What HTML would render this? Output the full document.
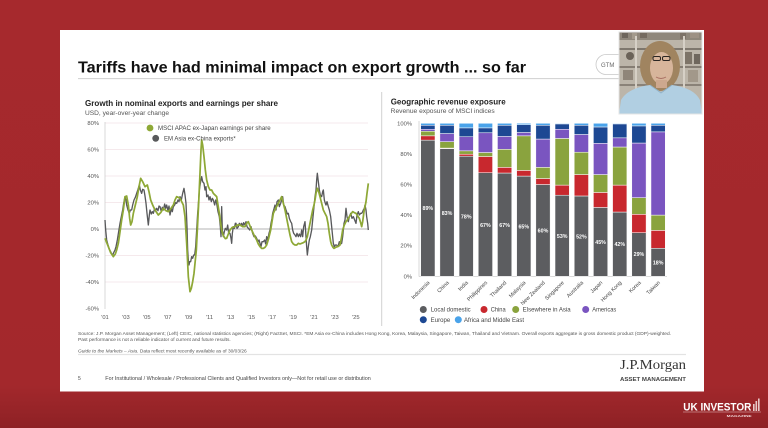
<!DOCTYPE html>
<html><head><meta charset="utf-8"><style>
html,body{margin:0;padding:0;background:#a5292c;}
svg{display:block;font-family:"Liberation Sans",Arial,sans-serif;}
</style></head><body>
<svg width="768" height="428" viewBox="0 0 768 428" xmlns="http://www.w3.org/2000/svg">
<defs>
<linearGradient id="bg" x1="0" y1="0" x2="0" y2="1">
<stop offset="0" stop-color="#a6292d"/><stop offset="0.9" stop-color="#a3282c"/><stop offset="1" stop-color="#8e2125"/>
</linearGradient>
<clipPath id="vid"><rect x="619" y="32" width="83" height="82"/></clipPath>
</defs>
<rect width="768" height="428" fill="url(#bg)"/>
<!-- slide -->
<rect x="60" y="30" width="644" height="361.5" fill="#fff"/>
<text x="78" y="72.7" font-size="16" font-weight="bold" fill="#111" textLength="448" lengthAdjust="spacingAndGlyphs">Tariffs have had minimal impact on export growth ... so far</text>
<line x1="78" y1="78.6" x2="620" y2="78.6" stroke="#cfcfcf" stroke-width="1"/>
<!-- GTM pill -->
<rect x="596" y="54.5" width="40" height="20" rx="10" fill="#fff" stroke="#c8c8c8" stroke-width="0.8"/>
<text x="601" y="66.8" font-size="6" fill="#666">GTM</text>
<!-- separator -->
<line x1="381.7" y1="92" x2="381.7" y2="326" stroke="#d0d0d0" stroke-width="1"/>

<!-- LEFT CHART -->
<text x="85" y="106" font-size="8" font-weight="bold" fill="#222" textLength="193" lengthAdjust="spacingAndGlyphs">Growth in nominal exports and earnings per share</text>
<text x="85" y="115" font-size="6.3" fill="#555" textLength="84" lengthAdjust="spacingAndGlyphs">USD, year-over-year change</text>
<g stroke="#f2e2e6" stroke-width="0.8">
<line x1="105" y1="123" x2="368" y2="123"/><line x1="105" y1="149.5" x2="368" y2="149.5"/>
<line x1="105" y1="176" x2="368" y2="176"/><line x1="105" y1="202.5" x2="368" y2="202.5"/>
<line x1="105" y1="255.5" x2="368" y2="255.5"/><line x1="105" y1="282" x2="368" y2="282"/>
</g>
<line x1="105" y1="229" x2="368" y2="229" stroke="#9a9a9a" stroke-width="0.8"/>
<line x1="105" y1="122" x2="105" y2="309" stroke="#cfcfcf" stroke-width="0.8"/>
<g font-size="5.8" fill="#555" text-anchor="end">
<text x="99" y="125">80%</text><text x="99" y="151.5">60%</text><text x="99" y="178">40%</text>
<text x="99" y="204.5">20%</text><text x="99" y="231">0%</text><text x="99" y="257.5">-20%</text>
<text x="99" y="284">-40%</text><text x="99" y="310.5">-60%</text>
</g>
<g font-size="5.8" fill="#555" text-anchor="middle">
<text x="105" y="318.8">'01</text><text x="125.9" y="318.8">'03</text><text x="146.8" y="318.8">'05</text>
<text x="167.7" y="318.8">'07</text><text x="188.6" y="318.8">'09</text><text x="209.5" y="318.8">'11</text>
<text x="230.4" y="318.8">'13</text><text x="251.3" y="318.8">'15</text><text x="272.2" y="318.8">'17</text>
<text x="293.1" y="318.8">'19</text><text x="314" y="318.8">'21</text><text x="334.9" y="318.8">'23</text>
<text x="355.8" y="318.8">'25</text>
</g>
<g transform="translate(60,90) scale(0.333333)" fill="none" stroke-linejoin="round">
<polyline stroke="#58595b" stroke-width="4" points="135,390 137,420 140,450 144,465 148,478 152,485 155,492 158,495 161,488 165,480 168,470 172,450 176,425 180,400 184,380 188,360 191,340 195,320 198,330 200,345 204,360 208,370 211,360 215,360 218,345 222,330 226,322 230,310 234,298 238,285 241,300 245,310 248,298 252,300 255,318 258,340 261,370 265,405 268,375 270,360 274,372 277,365 280,370 284,355 287,362 290,355 294,362 297,348 300,350 304,365 307,352 310,360 314,342 317,355 320,345 324,362 327,348 330,375 334,355 337,365 340,350 344,345 347,338 350,340 354,330 357,335 360,320 364,330 368,310 372,295 375,315 378,340 381,410 383,480 385,510 387,525 389,515 392,515 395,500 398,505 401,495 404,495 407,470 410,420 413,370 416,330 418,300 421,280 425,260 428,275 432,280 435,300 438,290 440,320 444,315 447,330 450,320 454,335 457,325 460,330 464,345 467,330 470,340 474,365 478,380 481,410 483,440 485,350 487,420 490,440 493,425 496,415 500,420 503,405 506,430 510,430 513,445 515,460 517,430 520,410 523,415 526,400 528,400 531,415 535,410 538,400 542,405 545,400 548,410 551,398 555,405 558,395 561,410 565,415 569,420 573,410 578,430 582,440 586,438 590,445 594,455 597,450 600,460 603,470 606,455 610,455 614,450 617,462 620,440 623,450 627,430 630,420 633,400 636,385 638,370 641,360 645,345 648,360 651,335 655,330 658,350 662,340 665,330 668,320 671,345 675,350 678,360 682,372 685,370 688,385 692,395 695,400 698,420 701,430 705,435 708,440 711,430 715,440 718,432 722,440 725,420 728,440 731,410 735,395 738,440 740,470 742,495 745,470 748,450 751,440 755,420 758,390 760,370 762,350 765,320 768,300 770,270 772,250 775,275 778,300 781,315 785,320 788,305 790,300 793,330 796,340 798,345 801,335 805,350 808,360 812,380 815,410 818,440 820,460 823,470 826,465 830,465 834,470 838,455 842,462 845,460 848,440 850,420 852,400 855,390 858,355 861,380 865,395 868,380 872,370 876,385 880,380 884,390 888,400 891,375 895,365 898,375 902,370 905,370 908,365 910,360 913,355 915,345 918,360 920,380 923,400 925,420"/>
<polyline stroke="#8ea836" stroke-width="5.2" points="135,445 145,470 152,488 160,500 166,492 170,480 175,460 178,440 185,390 190,360 195,320 200,318 205,345 209,385 212,405 216,395 220,370 226,345 232,320 237,290 242,265 248,275 255,290 262,285 267,305 272,330 278,345 285,360 295,375 302,368 310,355 318,362 325,365 333,355 340,345 345,330 350,320 355,322 360,325 365,335 370,345 375,380 380,460 385,560 390,605 394,595 398,575 402,550 405,520 409,480 412,420 416,340 420,250 423,180 425,150 428,165 432,200 436,240 440,270 445,290 450,300 455,300 460,310 465,315 470,320 474,345 478,370 482,400 485,420 489,435 492,440 496,446 500,445 505,432 510,420 517,412 525,410 532,405 540,405 548,410 555,410 560,400 565,395 570,408 575,420 582,435 590,450 595,462 600,470 605,475 610,475 615,472 620,465 626,445 632,420 636,395 640,370 647,355 655,340 660,330 665,320 670,340 675,360 680,385 685,410 690,435 695,455 700,462 705,465 710,465 715,460 720,462 725,460 730,458 735,455 739,448 742,440 746,420 750,400 754,380 758,360 762,345 765,330 768,310 772,295 776,305 780,320 785,340 790,360 795,370 800,380 804,400 808,430 812,455 815,465 819,472 822,475 827,472 832,470 836,468 840,465 844,445 848,420 853,405 858,395 863,388 868,380 873,372 878,365 883,368 888,370 893,378 898,385 902,398 905,410 908,395 912,365 915,350 918,335 921,310 925,280"/>
</g>
<!-- left legend -->
<circle cx="150" cy="128" r="3.4" fill="#8ea836"/>
<text x="158" y="130.2" font-size="6" fill="#444" textLength="112.7" lengthAdjust="spacingAndGlyphs">MSCI APAC ex-Japan earnings per share</text>
<circle cx="155.7" cy="138.3" r="3.4" fill="#58595b"/>
<text x="164" y="140.5" font-size="6" fill="#444" textLength="71.7" lengthAdjust="spacingAndGlyphs">EM Asia ex-China exports*</text>

<!-- RIGHT CHART -->
<text x="390.7" y="104.5" font-size="8" font-weight="bold" fill="#222" textLength="115" lengthAdjust="spacingAndGlyphs">Geographic revenue exposure</text>
<text x="390.7" y="113" font-size="6.3" fill="#555" textLength="104" lengthAdjust="spacingAndGlyphs">Revenue exposure of MSCI indices</text>
<g font-size="5.8" fill="#555" text-anchor="end">
<text x="412" y="125.3">100%</text><text x="412" y="155.9">80%</text><text x="412" y="186.5">60%</text>
<text x="412" y="217.1">40%</text><text x="412" y="247.7">20%</text><text x="412" y="278.3">0%</text>
</g>
<line x1="419" y1="121" x2="419" y2="276.5" stroke="#cfcfcf" stroke-width="0.8"/>
<line x1="419" y1="276.5" x2="667" y2="276.5" stroke="#cfcfcf" stroke-width="0.8"/>
<g transform="translate(0,276.3) scale(1,-1.53)" stroke="#fff" stroke-width="0.5">
<g transform="translate(420.7,0)">
<rect width="14.3" y="0" height="89" fill="#5c5d60" vector-effect="non-scaling-stroke"/>
<rect width="14.3" y="89" height="2.8" fill="#c8282e" vector-effect="non-scaling-stroke"/>
<rect width="14.3" y="91.8" height="3" fill="#8aa33e" vector-effect="non-scaling-stroke"/>
<rect width="14.3" y="94.8" height="1.3" fill="#7a55c0" vector-effect="non-scaling-stroke"/>
<rect width="14.3" y="96.1" height="2.6" fill="#1d4893" vector-effect="non-scaling-stroke"/>
<rect width="14.3" y="98.7" height="1.3" fill="#4aa3ea" vector-effect="non-scaling-stroke"/>
</g>
<g transform="translate(439.89,0)">
<rect width="14.3" y="0" height="83.4" fill="#5c5d60" vector-effect="non-scaling-stroke"/>
<rect width="14.3" y="83.4" height="0.4" fill="#c8282e" vector-effect="non-scaling-stroke"/>
<rect width="14.3" y="83.8" height="4.2" fill="#8aa33e" vector-effect="non-scaling-stroke"/>
<rect width="14.3" y="88" height="5.3" fill="#7a55c0" vector-effect="non-scaling-stroke"/>
<rect width="14.3" y="93.3" height="5.4" fill="#1d4893" vector-effect="non-scaling-stroke"/>
<rect width="14.3" y="98.7" height="1.3" fill="#4aa3ea" vector-effect="non-scaling-stroke"/>
</g>
<g transform="translate(459.08,0)">
<rect width="14.3" y="0" height="78.5" fill="#5c5d60" vector-effect="non-scaling-stroke"/>
<rect width="14.3" y="78.5" height="1.3" fill="#c8282e" vector-effect="non-scaling-stroke"/>
<rect width="14.3" y="79.8" height="2.2" fill="#8aa33e" vector-effect="non-scaling-stroke"/>
<rect width="14.3" y="82" height="9.2" fill="#7a55c0" vector-effect="non-scaling-stroke"/>
<rect width="14.3" y="91.2" height="5.8" fill="#1d4893" vector-effect="non-scaling-stroke"/>
<rect width="14.3" y="97" height="3" fill="#4aa3ea" vector-effect="non-scaling-stroke"/>
</g>
<g transform="translate(478.27,0)">
<rect width="14.3" y="0" height="67.7" fill="#5c5d60" vector-effect="non-scaling-stroke"/>
<rect width="14.3" y="67.7" height="10.6" fill="#c8282e" vector-effect="non-scaling-stroke"/>
<rect width="14.3" y="78.3" height="2.6" fill="#8aa33e" vector-effect="non-scaling-stroke"/>
<rect width="14.3" y="80.9" height="12.9" fill="#7a55c0" vector-effect="non-scaling-stroke"/>
<rect width="14.3" y="93.8" height="3.2" fill="#1d4893" vector-effect="non-scaling-stroke"/>
<rect width="14.3" y="97" height="3" fill="#4aa3ea" vector-effect="non-scaling-stroke"/>
</g>
<g transform="translate(497.46,0)">
<rect width="14.3" y="0" height="67.5" fill="#5c5d60" vector-effect="non-scaling-stroke"/>
<rect width="14.3" y="67.5" height="3.7" fill="#c8282e" vector-effect="non-scaling-stroke"/>
<rect width="14.3" y="71.2" height="11.8" fill="#8aa33e" vector-effect="non-scaling-stroke"/>
<rect width="14.3" y="83" height="8.4" fill="#7a55c0" vector-effect="non-scaling-stroke"/>
<rect width="14.3" y="91.4" height="7.3" fill="#1d4893" vector-effect="non-scaling-stroke"/>
<rect width="14.3" y="98.7" height="1.3" fill="#4aa3ea" vector-effect="non-scaling-stroke"/>
</g>
<g transform="translate(516.65,0)">
<rect width="14.3" y="0" height="65.5" fill="#5c5d60" vector-effect="non-scaling-stroke"/>
<rect width="14.3" y="65.5" height="3.7" fill="#c8282e" vector-effect="non-scaling-stroke"/>
<rect width="14.3" y="69.2" height="22.6" fill="#8aa33e" vector-effect="non-scaling-stroke"/>
<rect width="14.3" y="91.8" height="2.2" fill="#7a55c0" vector-effect="non-scaling-stroke"/>
<rect width="14.3" y="94" height="5.1" fill="#1d4893" vector-effect="non-scaling-stroke"/>
<rect width="14.3" y="99.1" height="0.9" fill="#4aa3ea" vector-effect="non-scaling-stroke"/>
</g>
<g transform="translate(535.84,0)">
<rect width="14.3" y="0" height="60" fill="#5c5d60" vector-effect="non-scaling-stroke"/>
<rect width="14.3" y="60" height="3.9" fill="#c8282e" vector-effect="non-scaling-stroke"/>
<rect width="14.3" y="63.9" height="7.3" fill="#8aa33e" vector-effect="non-scaling-stroke"/>
<rect width="14.3" y="71.2" height="18.5" fill="#7a55c0" vector-effect="non-scaling-stroke"/>
<rect width="14.3" y="89.7" height="9" fill="#1d4893" vector-effect="non-scaling-stroke"/>
<rect width="14.3" y="98.7" height="1.3" fill="#4aa3ea" vector-effect="non-scaling-stroke"/>
</g>
<g transform="translate(555.03,0)">
<rect width="14.3" y="0" height="53" fill="#5c5d60" vector-effect="non-scaling-stroke"/>
<rect width="14.3" y="53" height="6.6" fill="#c8282e" vector-effect="non-scaling-stroke"/>
<rect width="14.3" y="59.6" height="30.5" fill="#8aa33e" vector-effect="non-scaling-stroke"/>
<rect width="14.3" y="90.1" height="6" fill="#7a55c0" vector-effect="non-scaling-stroke"/>
<rect width="14.3" y="96.1" height="3.5" fill="#1d4893" vector-effect="non-scaling-stroke"/>
<rect width="14.3" y="99.6" height="0.4" fill="#4aa3ea" vector-effect="non-scaling-stroke"/>
</g>
<g transform="translate(574.22,0)">
<rect width="14.3" y="0" height="52.5" fill="#5c5d60" vector-effect="non-scaling-stroke"/>
<rect width="14.3" y="52.5" height="14" fill="#c8282e" vector-effect="non-scaling-stroke"/>
<rect width="14.3" y="66.5" height="14.6" fill="#8aa33e" vector-effect="non-scaling-stroke"/>
<rect width="14.3" y="81.1" height="11.6" fill="#7a55c0" vector-effect="non-scaling-stroke"/>
<rect width="14.3" y="92.7" height="6" fill="#1d4893" vector-effect="non-scaling-stroke"/>
<rect width="14.3" y="98.7" height="1.3" fill="#4aa3ea" vector-effect="non-scaling-stroke"/>
</g>
<g transform="translate(593.41,0)">
<rect width="14.3" y="0" height="45" fill="#5c5d60" vector-effect="non-scaling-stroke"/>
<rect width="14.3" y="45" height="9.8" fill="#c8282e" vector-effect="non-scaling-stroke"/>
<rect width="14.3" y="54.8" height="11.7" fill="#8aa33e" vector-effect="non-scaling-stroke"/>
<rect width="14.3" y="66.5" height="20.4" fill="#7a55c0" vector-effect="non-scaling-stroke"/>
<rect width="14.3" y="86.9" height="10.7" fill="#1d4893" vector-effect="non-scaling-stroke"/>
<rect width="14.3" y="97.6" height="2.4" fill="#4aa3ea" vector-effect="non-scaling-stroke"/>
</g>
<g transform="translate(612.6,0)">
<rect width="14.3" y="0" height="42" fill="#5c5d60" vector-effect="non-scaling-stroke"/>
<rect width="14.3" y="42" height="17.6" fill="#c8282e" vector-effect="non-scaling-stroke"/>
<rect width="14.3" y="59.6" height="24.9" fill="#8aa33e" vector-effect="non-scaling-stroke"/>
<rect width="14.3" y="84.5" height="6" fill="#7a55c0" vector-effect="non-scaling-stroke"/>
<rect width="14.3" y="90.5" height="9.1" fill="#1d4893" vector-effect="non-scaling-stroke"/>
<rect width="14.3" y="99.6" height="0.4" fill="#4aa3ea" vector-effect="non-scaling-stroke"/>
</g>
<g transform="translate(631.79,0)">
<rect width="14.3" y="0" height="28.5" fill="#5c5d60" vector-effect="non-scaling-stroke"/>
<rect width="14.3" y="28.5" height="12" fill="#c8282e" vector-effect="non-scaling-stroke"/>
<rect width="14.3" y="40.5" height="10.9" fill="#8aa33e" vector-effect="non-scaling-stroke"/>
<rect width="14.3" y="51.4" height="35.7" fill="#7a55c0" vector-effect="non-scaling-stroke"/>
<rect width="14.3" y="87.1" height="11.2" fill="#1d4893" vector-effect="non-scaling-stroke"/>
<rect width="14.3" y="98.3" height="1.7" fill="#4aa3ea" vector-effect="non-scaling-stroke"/>
</g>
<g transform="translate(650.98,0)">
<rect width="14.3" y="0" height="18.3" fill="#5c5d60" vector-effect="non-scaling-stroke"/>
<rect width="14.3" y="18.3" height="11.7" fill="#c8282e" vector-effect="non-scaling-stroke"/>
<rect width="14.3" y="30" height="10" fill="#8aa33e" vector-effect="non-scaling-stroke"/>
<rect width="14.3" y="40" height="54.4" fill="#7a55c0" vector-effect="non-scaling-stroke"/>
<rect width="14.3" y="94.4" height="4.3" fill="#1d4893" vector-effect="non-scaling-stroke"/>
<rect width="14.3" y="98.7" height="1.3" fill="#4aa3ea" vector-effect="non-scaling-stroke"/>
</g>
</g>
<g font-size="5.3" font-weight="bold" fill="#fff" text-anchor="middle">
<text x="427.85" y="210.2">89%</text><text x="447.04" y="214.8">83%</text><text x="466.23" y="218.6">78%</text>
<text x="485.42" y="227">67%</text><text x="504.61" y="227">67%</text><text x="523.8" y="228.6">65%</text>
<text x="542.99" y="232.4">60%</text><text x="562.18" y="237.8">53%</text><text x="581.37" y="238.5">52%</text>
<text x="600.56" y="243.9">45%</text><text x="619.75" y="246.2">42%</text><text x="638.94" y="256.1">29%</text>
<text x="658.13" y="264.5">18%</text>
</g>
<g font-size="5.4" fill="#444" text-anchor="end">
<text transform="translate(430,283) rotate(-45)">Indonesia</text>
<text transform="translate(449.2,283) rotate(-45)">China</text>
<text transform="translate(468.4,283) rotate(-45)">India</text>
<text transform="translate(487.6,283) rotate(-45)">Philippines</text>
<text transform="translate(506.8,283) rotate(-45)">Thailand</text>
<text transform="translate(526,283) rotate(-45)">Malaysia</text>
<text transform="translate(545.2,283) rotate(-45)">New Zealand</text>
<text transform="translate(564.4,283) rotate(-45)">Singapore</text>
<text transform="translate(583.6,283) rotate(-45)">Australia</text>
<text transform="translate(602.8,283) rotate(-45)">Japan</text>
<text transform="translate(622,283) rotate(-45)">Hong Kong</text>
<text transform="translate(641.2,283) rotate(-45)">Korea</text>
<text transform="translate(660.4,283) rotate(-45)">Taiwan</text>
</g>
<g font-size="6" fill="#444">
<circle cx="423.3" cy="309.5" r="3.5" fill="#5c5d60"/><text x="430.7" y="311.7" textLength="40" lengthAdjust="spacingAndGlyphs">Local domestic</text>
<circle cx="484" cy="309.5" r="3.5" fill="#c8282e"/><text x="490.7" y="311.7" textLength="15" lengthAdjust="spacingAndGlyphs">China</text>
<circle cx="515.7" cy="309.5" r="3.5" fill="#8aa33e"/><text x="522.7" y="311.7" textLength="48" lengthAdjust="spacingAndGlyphs">Elsewhere in Asia</text>
<circle cx="585.7" cy="309.5" r="3.5" fill="#7a55c0"/><text x="592.3" y="311.7" textLength="24" lengthAdjust="spacingAndGlyphs">Americas</text>
<circle cx="423.3" cy="319.7" r="3.5" fill="#1d4893"/><text x="430.7" y="321.9" textLength="19.5" lengthAdjust="spacingAndGlyphs">Europe</text>
<circle cx="458.3" cy="319.7" r="3.5" fill="#4aa3ea"/><text x="464" y="321.9" textLength="60" lengthAdjust="spacingAndGlyphs">Africa and Middle East</text>
</g>

<!-- footer -->
<g font-size="4.7" fill="#555">
<text x="78" y="335" textLength="593" lengthAdjust="spacingAndGlyphs">Source: J.P. Morgan Asset Management; (Left) CEIC, national statistics agencies; (Right) FactSet, MSCI. *EM Asia ex-China includes Hong Kong, Korea, Malaysia, Singapore, Taiwan, Thailand and Vietnam. Overall exports aggregate is gross domestic product (GDP)-weighted.</text>
<text x="78" y="340.8" textLength="152.7" lengthAdjust="spacingAndGlyphs">Past performance is not a reliable indicator of current and future results.</text>
<text x="78" y="352.6" textLength="168.7" lengthAdjust="spacingAndGlyphs"><tspan font-style="italic">Guide to the Markets – Asia.</tspan> Data reflect most recently available as of 30/03/26</text>
</g>
<line x1="78" y1="354.5" x2="686" y2="354.5" stroke="#e3e3e3" stroke-width="1.2"/>
<text x="78" y="379.8" font-size="5" fill="#444">5</text>
<text x="105.3" y="379.8" font-size="5" fill="#444" textLength="265.4" lengthAdjust="spacingAndGlyphs">For Institutional / Wholesale / Professional Clients and Qualified Investors only—Not for retail use or distribution</text>
<text x="620" y="369" font-family="'Liberation Serif',serif" font-size="14" fill="#333" textLength="66" lengthAdjust="spacingAndGlyphs">J.P.Morgan</text>
<text x="620" y="381" font-size="5.4" font-weight="bold" fill="#444" textLength="66" lengthAdjust="spacingAndGlyphs">ASSET MANAGEMENT</text>

<!-- video -->
<g clip-path="url(#vid)">
<rect x="619" y="32" width="83" height="82" fill="#bcb5a9"/>
<rect x="619" y="32" width="83" height="8" fill="#8f877b"/>
<rect x="622" y="33" width="6" height="5" fill="#6e665c"/><rect x="632" y="33" width="5" height="6" fill="#a39a8c"/>
<rect x="640" y="33" width="7" height="5" fill="#756b60"/><rect x="680" y="33" width="6" height="6" fill="#7d7368"/>
<rect x="690" y="33" width="9" height="5" fill="#9d9184"/>
<rect x="619" y="48" width="83" height="2" fill="#7e776d"/>
<rect x="619" y="66" width="83" height="2" fill="#857d73"/>
<rect x="619" y="84" width="83" height="2" fill="#8a8278"/>
<circle cx="630" cy="56" r="4" fill="#6a6258"/><rect x="623" y="70" width="10" height="10" fill="#8f8579"/>
<rect x="685" y="52" width="7" height="12" fill="#7d7468"/><rect x="688" y="70" width="10" height="12" fill="#a2988a"/>
<rect x="694" y="54" width="6" height="10" fill="#6f675d"/>
<rect x="635" y="36" width="2" height="78" fill="#d6d0c6"/><rect x="683" y="36" width="2" height="78" fill="#d6d0c6"/>
<ellipse cx="660" cy="66" rx="20" ry="25" fill="#a08460"/>
<ellipse cx="661.5" cy="68" rx="11.5" ry="16" fill="#d7b59b"/>
<rect x="653" y="56.5" width="7.5" height="4" rx="1.5" fill="none" stroke="#2a2522" stroke-width="1"/>
<rect x="662.5" y="56.5" width="7.5" height="4" rx="1.5" fill="none" stroke="#2a2522" stroke-width="1"/>
<path d="M656,77 Q661,80 666,77" stroke="#a86f62" stroke-width="0.9" fill="none"/>
<rect x="656" y="80" width="11" height="8" fill="#cda88e"/>
<path d="M619,114 L621,100 Q628,88 650,85 L661,92 L672,85 Q694,88 700,100 L702,114 Z" fill="#b1cfe2"/>
<path d="M650,85 L661,93 L672,85" stroke="#8fb0c6" stroke-width="0.8" fill="none"/>
</g>
<rect x="619" y="32" width="83" height="82" fill="none" stroke="#e4e4e4" stroke-width="1"/>

<!-- UK Investor logo -->
<text x="683.3" y="410.3" font-size="11" font-weight="bold" fill="#fff" textLength="68" lengthAdjust="spacingAndGlyphs">UK INVESTOR</text>
<g fill="#e8c9c9">
<rect x="753" y="404" width="1.6" height="7"/><rect x="755.5" y="401" width="1.6" height="10"/><rect x="758" y="398.5" width="1.6" height="12.5"/>
</g>
<line x1="683" y1="412" x2="761" y2="412" stroke="#e6c2c2" stroke-width="0.5"/>
<text x="726.7" y="416.8" font-size="3" font-weight="bold" fill="#f1dada" textLength="25" lengthAdjust="spacingAndGlyphs">MAGAZINE</text>
</svg>
</body></html>
